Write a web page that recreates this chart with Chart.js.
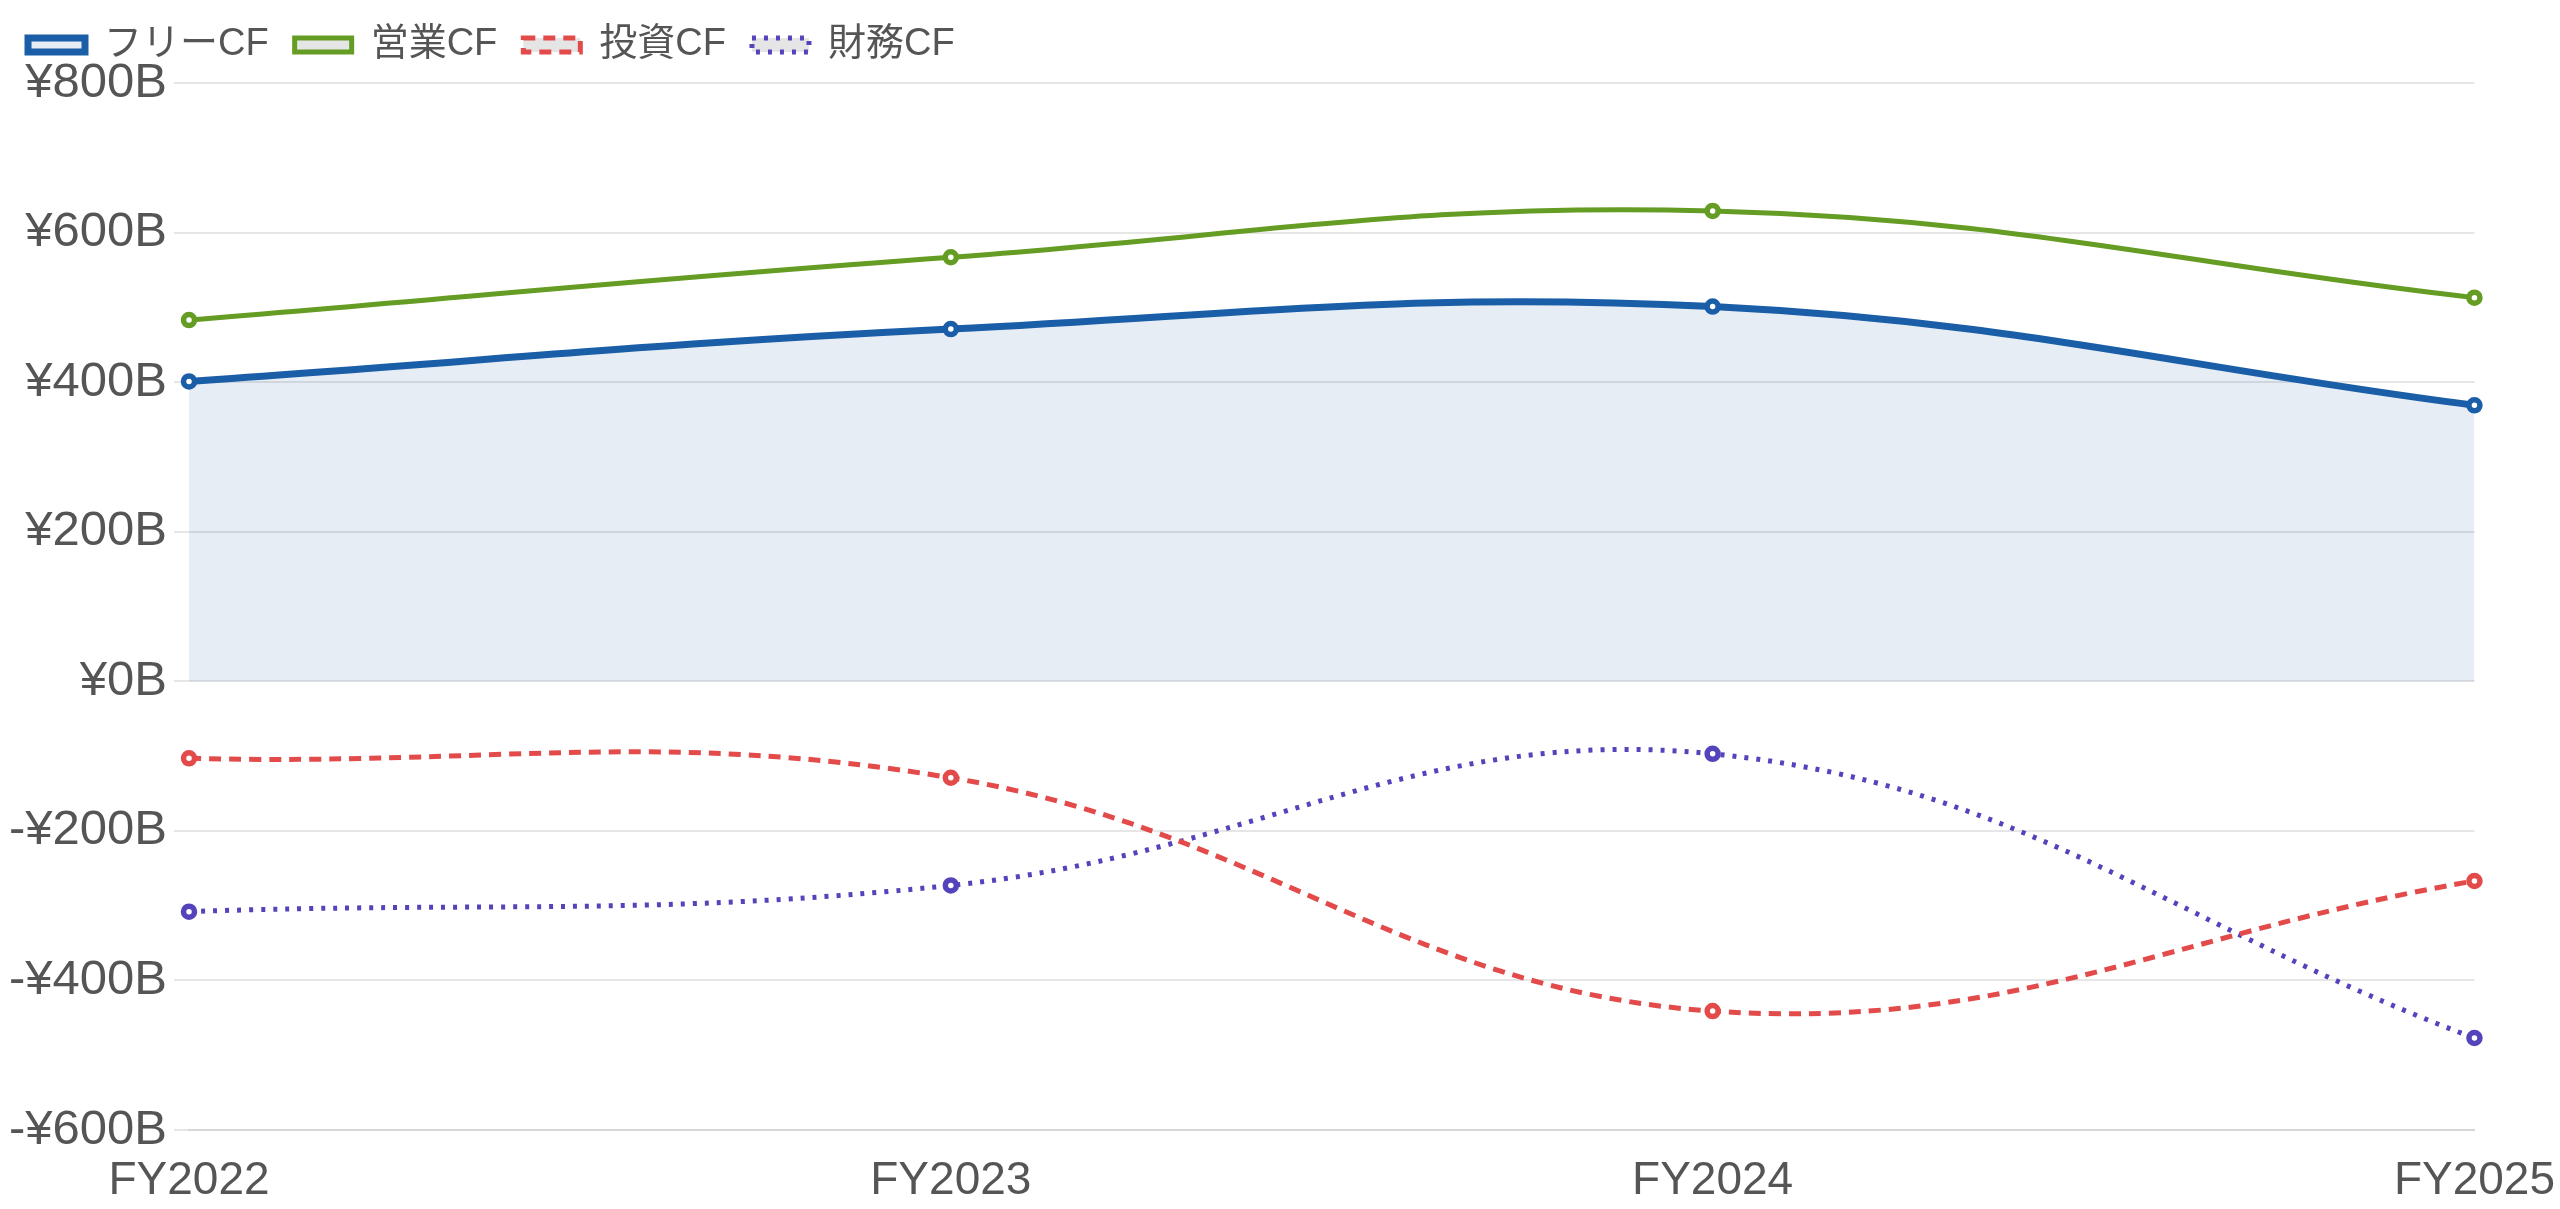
<!DOCTYPE html>
<html>
<head>
<meta charset="utf-8">
<script src="https://cdn.jsdelivr.net/npm/chart.js@4"></script>
<style>
html,body{margin:0;padding:0;background:#fff;overflow:hidden;}
#wrap{width:2560px;height:1209px;position:relative;}
</style>
</head>
<body>
<div id="wrap"><canvas id="c"></canvas></div>
<script>
const categories = ['FY2022', 'FY2023', 'FY2024', 'FY2025'];
const freeCF = [401, 471, 501, 369];
const operatingCF = [483, 567, 629, 513];
const investingCF = [-103, -129, -441, -267];
const financingCF = [-308, -273, -97, -477];
const seriesNames = ['フリーCF', '営業CF', '投資CF', '財務CF'];
const yTicks = { min: -600, max: 800, step: 200 };

const FONT = "'Liberation Sans', Arial, Helvetica, 'Noto Sans CJK JP', sans-serif";

const legendHeightPlugin = {
  id: 'legendHeight',
  beforeInit(chart) {
    const orig = chart.legend.fit;
    chart.legend.fit = function () {
      orig.call(this);
      this.height += 9;
    };
  }
};

function ds(label, data, color, width, dash, extra) {
  return Object.assign({
    label, data, borderColor: color, borderWidth: width, borderDash: dash,
    fill: false, tension: 0.4,
    pointRadius: 5.5, pointBorderWidth: 5.5, pointBackgroundColor: '#fff', pointBorderColor: color
  }, extra || {});
}

new Chart(document.getElementById('c'), {
  type: 'line',
  data: {
    labels: categories,
    datasets: [
      ds(seriesNames[0], freeCF, '#1a5ea8', 7, [], { fill: 'origin', backgroundColor: 'rgba(26,94,168,0.11)' }),
      ds(seriesNames[1], operatingCF, '#659c23', 5, []),
      ds(seriesNames[2], investingCF, '#e34a4a', 5, [12, 8]),
      ds(seriesNames[3], financingCF, '#5444bb', 5, [4, 8])
    ]
  },
  options: {
    responsive: true,
    maintainAspectRatio: false,
    animation: false,
    layout: { padding: { left: 2, right: 0, top: 0, bottom: 0 } },
    plugins: {
      legend: {
        position: 'top', align: 'start',
        labels: {
          font: { family: FONT, size: 38 }, color: '#555',
          boxWidth: 57, boxHeight: 14, padding: 26
        }
      },
      tooltip: { enabled: false }
    },
    scales: {
      x: {
        offset: false,
        grid: { display: true, drawOnChartArea: false, drawTicks: true, tickLength: 23, tickColor: 'rgba(0,0,0,0)', color: 'rgba(0,0,0,0)' },
        border: { display: true, color: '#d6d6d6', width: 2 },
        ticks: { font: { family: FONT, size: 46, lineHeight: 1.0 }, color: '#555', padding: 5, maxRotation: 0 }
      },
      y: {
        min: yTicks.min, max: yTicks.max,
        grid: { color: '#e6e6e6', lineWidth: 2, tickLength: 15, drawTicks: true },
        border: { display: false },
        ticks: {
          stepSize: yTicks.step,
          font: { family: FONT, size: 49 }, color: '#555', padding: 7,
          callback: v => (v < 0 ? '-¥' + Math.abs(v) : '¥' + v) + 'B'
        }
      }
    }
  },
  plugins: [legendHeightPlugin]
});
</script>
</body>
</html>
